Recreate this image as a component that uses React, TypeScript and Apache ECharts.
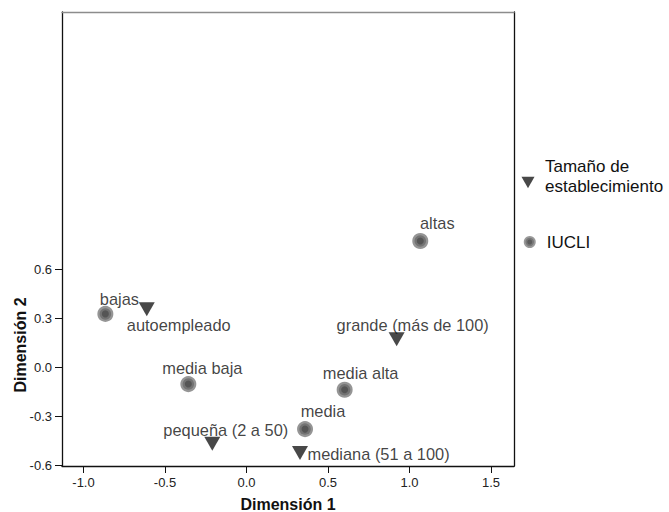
import React, { useEffect, useRef } from 'react';
import * as echarts from 'echarts';

const establecimientoNames = ['autoempleado', 'pequeña (2 a 50)', 'mediana (51 a 100)', 'grande (más de 100)'];
const establecimientoDim1 = [-0.612, -0.21, 0.328, 0.921];
const establecimientoDim2 = [0.355, -0.469, -0.527, 0.171];

const iucliNames = ['bajas', 'media baja', 'media', 'media alta', 'altas'];
const iucliDim1 = [-0.866, -0.357, 0.359, 0.602, 1.066];
const iucliDim2 = [0.326, -0.104, -0.38, -0.139, 0.773];

const xTicks = [-1.0, -0.5, 0.0, 0.5, 1.0, 1.5];
const yTicks = [-0.6, -0.3, 0.0, 0.3, 0.6];

const seriesNames = ['Tamaño de establecimiento', 'IUCLI'];

// label placement (style only)
const establecimientoLabelPlace = [
  { offset: [32, 16], align: 'center' },
  { offset: [13.5, -14], align: 'center' },
  { offset: [7.5, 1], align: 'left' },
  { offset: [16, -14], align: 'center' },
];
const iucliLabelPlace = [
  { offset: [14, -15], align: 'center' },
  { offset: [14, -16], align: 'center' },
  { offset: [18, -18], align: 'center' },
  { offset: [16, -17], align: 'center' },
  { offset: [17, -18], align: 'center' },
];

const FONT = "'Liberation Sans', Arial, Helvetica, sans-serif";
const TRI = 'path://M0,0L16,0L8,14Z';

export default function App() {
  const ref = useRef<HTMLDivElement>(null);
  useEffect(() => {
    if (!ref.current) return;
    const chart = echarts.init(ref.current, null, { renderer: 'svg' });
    const xMin = -1.132, xMax = 1.641, yMin = -0.606, yMax = 2.176;
    const fmt = (v: number) => v.toFixed(1);
    const labelBase = { show: true, position: 'inside', formatter: '{b}', color: '#111', fontSize: 16.4, fontFamily: FONT };
    const lineCol = '#111';
    chart.setOption({
      animation: false,
      backgroundColor: '#fff',
      grid: { left: 62, right: 155, top: 12, bottom: 46, containLabel: false, outerBoundsMode: 'none' },
      xAxis: [
        {
          type: 'value', min: xMin, max: xMax, position: 'bottom',
          splitLine: { show: false },
          axisLine: { show: true, onZero: false, lineStyle: { color: lineCol, width: 1.3 } },
          axisTick: { show: true, length: 7, customValues: xTicks, lineStyle: { color: lineCol, width: 1 } },
          axisLabel: { customValues: xTicks, formatter: fmt, margin: 10, fontSize: 13, color: '#222', fontFamily: FONT },
        },
        {
          type: 'value', min: xMin, max: xMax, position: 'top',
          splitLine: { show: false },
          axisLine: { show: true, onZero: false, lineStyle: { color: '#8c8c8c', width: 1.3 } },
          axisTick: { show: false }, axisLabel: { show: false },
        },
      ],
      yAxis: [
        {
          type: 'value', min: yMin, max: yMax, position: 'left',
          splitLine: { show: false },
          axisLine: { show: true, onZero: false, lineStyle: { color: lineCol, width: 1.3 } },
          axisTick: { show: true, length: 7, customValues: yTicks, lineStyle: { color: lineCol, width: 1 } },
          axisLabel: { customValues: yTicks, formatter: fmt, margin: 10, fontSize: 13, color: '#222', fontFamily: FONT },
        },
        {
          type: 'value', min: yMin, max: yMax, position: 'right',
          splitLine: { show: false },
          axisLine: { show: true, onZero: false, lineStyle: { color: lineCol, width: 1.3 } },
          axisTick: { show: false }, axisLabel: { show: false },
        },
      ],
      legend: [
        {
          data: [seriesNames[0]], left: 521.5, top: 156.5, padding: 0, orient: 'vertical', selectedMode: false,
          icon: TRI, itemWidth: 13, itemHeight: 13,
          formatter: () => '{a|Tamaño de}\n{a|establecimiento}\n{s|}',
          textStyle: {
            fontSize: 17, lineHeight: 20, color: '#111', fontFamily: FONT, padding: [0, 0, 0, 5.5],
            rich: {
              a: { fontSize: 17, lineHeight: 20, color: '#111', fontFamily: FONT },
              s: { fontSize: 1, lineHeight: 12, height: 12 },
            },
          },
        },
        {
          data: [seriesNames[1]], left: 523.75, top: 232, padding: 0, orient: 'vertical', selectedMode: false,
          icon: 'circle', itemWidth: 8.5, itemHeight: 8.5,
          itemStyle: { color: '#333', borderColor: '#808080', borderWidth: 3.5 },
          textStyle: { fontSize: 17, lineHeight: 20, color: '#111', fontFamily: FONT, padding: [0, 0, 0, 7.75] },
        },
      ],
      graphic: [
        {
          type: 'text', x: 288, y: 504,
          style: { text: 'Dimensión 1', font: `bold 16px ${FONT}`, fill: '#111', align: 'center', verticalAlign: 'middle', textAlign: 'center', textVerticalAlign: 'middle' },
        },
        {
          type: 'text', x: 20, y: 345, rotation: Math.PI / 2,
          style: { text: 'Dimensión 2', font: `bold 16px ${FONT}`, fill: '#111', align: 'center', verticalAlign: 'middle', textAlign: 'center', textVerticalAlign: 'middle' },
        },
      ],
      series: [
        {
          name: seriesNames[0], type: 'scatter', xAxisIndex: 0, yAxisIndex: 0,
          symbol: TRI, symbolSize: [16, 14],
          itemStyle: { color: '#1a1a1a' },
          label: labelBase,
          emphasis: { disabled: true },
          data: establecimientoNames.map((n, i) => ({
            name: n, value: [establecimientoDim1[i], establecimientoDim2[i]],
            label: { offset: establecimientoLabelPlace[i].offset, align: establecimientoLabelPlace[i].align },
          })),
        },
        {
          name: seriesNames[1], type: 'scatter', xAxisIndex: 0, yAxisIndex: 0,
          symbol: 'circle', symbolSize: 11.5,
          itemStyle: { color: '#2a2a2a', borderColor: '#7a7a7a', borderWidth: 4.5 },
          label: labelBase,
          emphasis: { disabled: true },
          data: iucliNames.map((n, i) => ({
            name: n, value: [iucliDim1[i], iucliDim2[i]],
            label: { offset: iucliLabelPlace[i].offset, align: iucliLabelPlace[i].align },
          })),
        },
      ],
    });
    return () => chart.dispose();
  }, []);
  return <div ref={ref} style={{ position: 'absolute', left: 0, top: 0, width: 669, height: 512 }} />;
}
